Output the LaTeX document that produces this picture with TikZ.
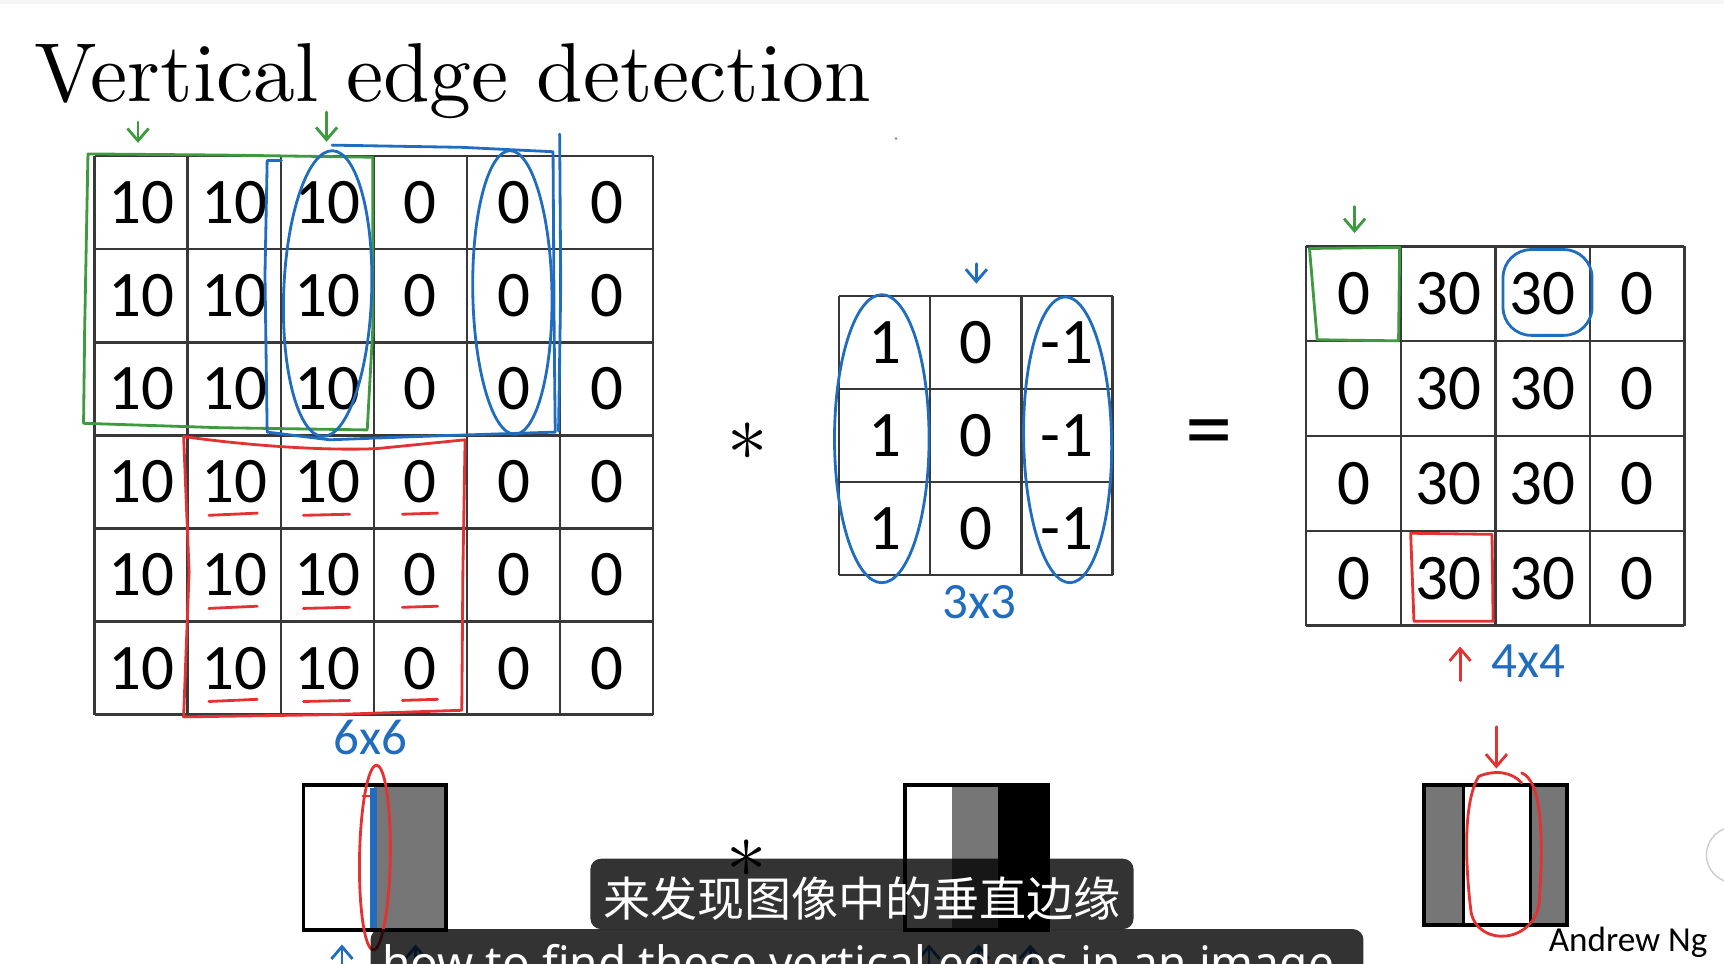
\documentclass[tikz,border=0pt]{standalone}
\usepackage{fontspec}
\usepackage{tikz}
\usetikzlibrary{arrows.meta}
\newfontfamily\titlefont{lmroman10-regular}[Extension=.otf]
\newfontfamily\numfont{Carlito}
\newfontfamily\cjkfont{Noto Sans CJK SC}
\newfontfamily\capfont{Noto Sans}
\definecolor{pengreen}{RGB}{62,154,62}
\definecolor{penblue}{RGB}{32,108,190}
\definecolor{penred}{RGB}{228,50,50}
\definecolor{stripe}{RGB}{118,118,118}

\begin{document}
\begin{tikzpicture}[x=0.011cm,y=-0.011cm,>={Straight Barb[length=3.5pt,width=6pt]},
  num/.style={font=\numfont\fontsize{18.5}{20}\selectfont,inner sep=0pt},
  dim/.style={font=\numfont\fontsize{14.5}{16}\selectfont,text=penblue,inner sep=0pt},
  gridline/.style={line width=0.7pt,black!78},
  pen/.style={line width=0.8pt,line cap=round,line join=round},
  frame/.style={draw=black,line width=1.1pt}]
\useasboundingbox (0,0) rectangle (1568,876);
\fill[black!4] (0,0) rectangle (1568,4);
\node[anchor=base west,inner sep=0pt,font=\titlefont\fontsize{23.8}{27}\selectfont] (title) at (31,92) {Vertical edge detection};
\fill[black!45] (815,126) circle (1.3);

\foreach \i in {0,...,6}{
  \draw[gridline] (86+84.67*\i,142) -- (86+84.67*\i,650);
  \draw[gridline] (86,142+84.67*\i) -- (594,142+84.67*\i);}
\foreach \r in {1,...,6}{
  \foreach \c/\v in {1/10,2/10,3/10,4/0,5/0,6/0}{
    \node[num] (in-\r-\c) at (86+84.67*\c-42.33,142+84.67*\r-42.33) {\v};}}
\foreach \i in {0,...,3}{
  \draw[gridline] (763+83*\i,269) -- (763+83*\i,523);
  \draw[gridline] (763,269+84.67*\i) -- (1012,269+84.67*\i);}
\foreach \r in {1,2,3}{
  \foreach \c/\v in {1/1,2/0,3/-1}{
    \node[num] (ft-\r-\c) at (763+83*\c-41.5,269+84.67*\r-42.33) {\v};}}
\foreach \i in {0,...,4}{
  \draw[gridline] (1188+86*\i,224) -- (1188+86*\i,569);
  \draw[gridline] (1188,224+86.25*\i) -- (1532,224+86.25*\i);}
\foreach \r in {1,...,4}{
  \foreach \c/\v in {1/0,2/30,3/30,4/0}{
    \node[num] (out-\r-\c) at (1188+86*\c-43,224+86.25*\r-43.12) {\v};}}

\node[scale=2.3,inner sep=0pt] (conv-op) at (680,402) {$\ast$};
\node[font=\numfont\fontsize{27}{28}\selectfont,inner sep=0pt] (eq-op) at (1100,400) {=};
\node[dim] (dim-in) at (337,671) {6x6};
\node[dim] (dim-ft) at (891,548) {3x3};
\node[dim] (dim-out) at (1390,601) {4x4};

\draw[pen,pengreen] (80,140) -- (77,300) -- (76,385) -- (200,389) -- (334,391) -- (339,300) -- (339,143) -- (200,141) -- cycle;
\draw[pen,pengreen,->] (125.5,111) -- (125.5,130);
\draw[pen,pengreen,->] (297,102) -- (297,129);
\draw[pen,penblue] (302,132) -- (420,134) -- (503,138) -- (504,300) -- (505,393) -- (380,397) -- (300,400) -- (243,393) -- (241,250) -- (243,146) -- (256,146);
\draw[pen,penblue,rotate around={-2:(298,267)}] (298,267) ellipse (40 and 130);
\draw[pen,penblue,rotate around={1:(466,266)}] (466,266) ellipse (36 and 129);
\draw[pen,penblue] (509,122) -- (510,260) -- (508,392);
\draw[pen,penred] (167,397) .. controls (230,406) and (300,410) .. (343,408) -- (423,400) -- (421,520) -- (420,646) -- (300,650) -- (167,652) -- (172,520) -- cycle;
\foreach \r in {4,5,6}{
  \draw[pen,penred] (190,142+84.67*\r-12) -- (234,142+84.67*\r-14);
  \draw[pen,penred] (276,142+84.67*\r-12) -- (318,142+84.67*\r-13);
  \draw[pen,penred] (366,142+84.67*\r-13) -- (398,142+84.67*\r-14);}

\draw[pen,penblue,->] (888,240) -- (888,258);
\draw[pen,penblue] (802,399) ellipse (43 and 131);
\draw[pen,penblue,rotate around={1:(971,400)}] (971,400) ellipse (40 and 130);

\draw[pen,pengreen] (1191,226) -- (1273,225) -- (1272,310) -- (1198,309) -- cycle;
\draw[pen,pengreen,->] (1232,188) -- (1232,212);
\draw[pen,penblue,rounded corners=8] (1367,227) rectangle (1448,305);
\draw[pen,penred] (1283,485) -- (1357,486) -- (1358,565) -- (1286,565) -- cycle;
\draw[pen,penred,->] (1328,619) -- (1328,588);

\fill[white] (276,714) rectangle (340,846);
\fill[stripe] (340,714) rectangle (406,846);
\fill[penblue] (336.5,717) rectangle (343,846);
\draw[frame] (276,714) rectangle (406,846);
\draw[pen,penred] (336,724) -- (330,724);
\draw[pen,penred,rotate around={-1:(341,780)}] (341,780) ellipse (14 and 84);

\fill[stripe] (866,714) rectangle (908,846);
\fill[black] (908,714) rectangle (953,846);
\draw[frame] (823,714) rectangle (953,846);

\fill[stripe] (1295,714) rectangle (1331,841);
\fill[stripe] (1392,714) rectangle (1425,841);
\draw[frame] (1295,714) rectangle (1425,841);
\draw[frame] (1331,714) -- (1331,841);
\draw[frame] (1392,714) -- (1392,841);
\draw[pen,penred] (1384,703) .. controls (1402,710) and (1404,760) .. (1400,820) .. controls (1396,858) and (1345,862) .. (1338,830) .. controls (1333,790) and (1330,730) .. (1345,706) .. controls (1360,700) and (1375,702) .. (1384,712);
\draw[pen,penred,->] (1361,661) -- (1361,699);

\draw[pen,penblue,->] (311,880) -- (311,859);
\foreach \x in {378,845,890,937}{\draw[pen,penblue,->] (\x,882) -- (\x,859);}
\node[scale=2.3,inner sep=0pt] (conv-op2) at (679,781) {$\ast$};

\fill[black,opacity=0.8,rounded corners=3] (537,781) rectangle (1031,845);
\fill[black,opacity=0.8,rounded corners=3] (337,845) rectangle (1240,905);
\node[text=white,font=\cjkfont\fontsize{13.4}{15}\selectfont,inner sep=0pt] (sub-zh) at (784,817) {来发现图像中的垂直边缘};
\node[text=white,font=\capfont\fontsize{13.1}{14}\selectfont,anchor=base west,inner sep=0pt] (sub-en) at (347,891) {how to find these vertical edges in an image};

\node[font=\numfont\fontsize{10}{12}\selectfont,anchor=base west,inner sep=0pt] (credit) at (1408,865) {Andrew Ng};
\draw[black!20,fill=white,rounded corners=8] (1552,752) rectangle (1600,803);
\end{tikzpicture}
\end{document}
